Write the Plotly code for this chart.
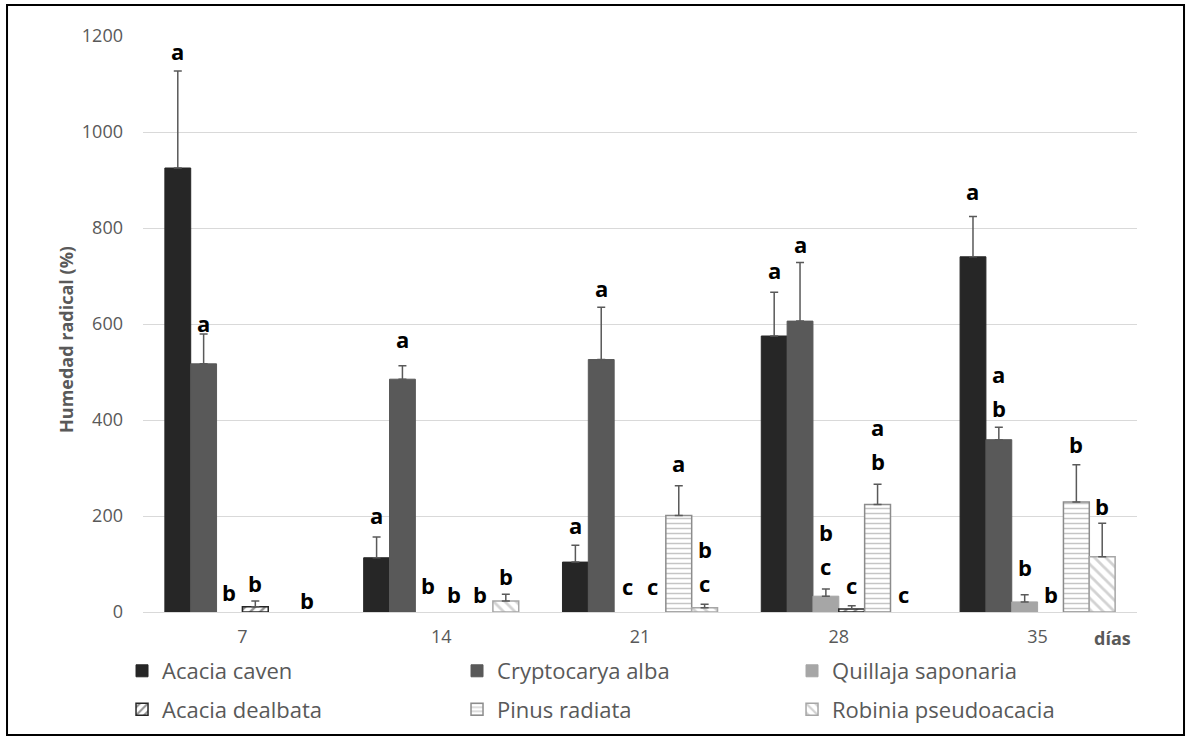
import plotly.graph_objects as go

# Sampling days (x categories)
days = ["7", "14", "21", "28", "35"]

# Root moisture (%) per species and day, with the upper standard error
acacia_caven = [925, 113, 104, 575, 740]
acacia_caven_err = [202, 43, 35, 91, 84]
cryptocarya_alba = [517, 485, 526, 606, 359]
cryptocarya_alba_err = [62, 28, 109, 122, 26]
quillaja_saponaria = [0, 0, 0, 33, 21]
quillaja_saponaria_err = [0, 0, 0, 15, 15]
acacia_dealbata = [11, 0, 0, 6, 0]
acacia_dealbata_err = [12, 0, 0, 7, 0]
pinus_radiata = [0, 0, 201, 224, 229]
pinus_radiata_err = [0, 0, 62, 42, 78]
robinia_pseudoacacia = [0, 23, 9, 0, 115]
robinia_pseudoacacia_err = [0, 14, 7, 0, 70]

# Significance letters per species and day ("" = none); multi-letter groups stack vertically
letters_acacia_caven = ["a", "a", "a", "a", "a"]
letters_cryptocarya_alba = ["a", "a", "a", "a", "ab"]
letters_quillaja_saponaria = ["b", "b", "c", "bc", "b"]
letters_acacia_dealbata = ["b", "b", "c", "c", "b"]
letters_pinus_radiata = ["", "b", "a", "ab", "b"]
letters_robinia_pseudoacacia = ["b", "b", "bc", "c", "b"]

# Label placement: height (y units) of the lowest letter in each group
letter_base = [
    [1168, 202, 182, 712, 877],
    [603, 568, 675, 766, 424],
    [41, 56, 55, 96, 94],
    [60, 38, 55, 57, 37],
    [None, 38, 310, 315, 349],
    [25, 75, 60, 38, 221],
]

series = [
    ("Acacia caven", acacia_caven, acacia_caven_err, letters_acacia_caven,
     dict(color="#262626", line=dict(color="#262626", width=1))),
    ("Cryptocarya alba", cryptocarya_alba, cryptocarya_alba_err, letters_cryptocarya_alba,
     dict(color="#595959", line=dict(color="#595959", width=1))),
    ("Quillaja saponaria", quillaja_saponaria, quillaja_saponaria_err, letters_quillaja_saponaria,
     dict(color="#a6a6a6", line=dict(color="#a6a6a6", width=1))),
    ("Acacia dealbata", acacia_dealbata, acacia_dealbata_err, letters_acacia_dealbata,
     dict(color="white", line=dict(color="#262626", width=1.5),
          pattern=dict(shape="/", fgcolor="#262626", bgcolor="white", size=7,
                       solidity=0.35, fillmode="overlay"))),
    ("Pinus radiata", pinus_radiata, pinus_radiata_err, letters_pinus_radiata,
     dict(color="white", line=dict(color="#8c8c8c", width=1.5),
          pattern=dict(shape="-", fgcolor="#8c8c8c", bgcolor="white", size=5,
                       solidity=0.3, fillmode="overlay"))),
    ("Robinia pseudoacacia", robinia_pseudoacacia, robinia_pseudoacacia_err, letters_robinia_pseudoacacia,
     dict(color="white", line=dict(color="#a6a6a6", width=1.5),
          pattern=dict(shape="\\", fgcolor="#a6a6a6", bgcolor="white", size=8,
                       solidity=0.35, fillmode="overlay"))),
]

FONT = "Open Sans"
GRAY = "#595959"
BARGAP = 0.22
n_series = len(series)
bar_w = (1 - BARGAP) / n_series
xpos = list(range(len(days)))

fig = go.Figure()
annotations = []
for i, (name, vals, errs, letters, marker) in enumerate(series):
    yvals = [v if v > 0 else None for v in vals]
    evals = [e if v > 0 and e > 0 else None for v, e in zip(vals, errs)]
    fig.add_trace(go.Bar(
        x=xpos, y=yvals, name=name, marker=marker,
        legend="legend" if i < 3 else "legend2",
        error_y=dict(type="data", symmetric=False, array=evals,
                     arrayminus=[0 if e is not None else None for e in evals],
                     color=GRAY, thickness=1.5, width=4),
    ))
    offset = (i - (n_series - 1) / 2) * bar_w
    for d, (txt, base) in enumerate(zip(letters, letter_base[i])):
        if not txt or base is None:
            continue
        # stack letters: last letter at the base, earlier ones above it
        for k, ch in enumerate(reversed(txt)):
            annotations.append(dict(
                x=d + offset, y=base, xref="x", yref="y", text=ch,
                showarrow=False, yanchor="middle", xanchor="center", yshift=34 * k,
                font=dict(family=FONT, size=22, color="black", weight="bold"),
            ))

# Axis titles
annotations.append(dict(
    x=-0.0775, y=0.474, xref="paper", yref="paper", text="Humedad radical (%)",
    textangle=-90, showarrow=False, xanchor="center", yanchor="middle",
    font=dict(family=FONT, size=18, color=GRAY, weight="bold"),
))
annotations.append(dict(
    x=0.975, y=-0.045, xref="paper", yref="paper", text="días",
    showarrow=False, xanchor="center", yanchor="middle",
    font=dict(family=FONT, size=18, color=GRAY, weight="bold"),
))

legend_common = dict(
    orientation="h", xanchor="left", yanchor="middle", x=-0.0211,
    entrywidth=290, entrywidthmode="pixels", itemwidth=30,
    font=dict(family=FONT, size=22, color=GRAY), bgcolor="rgba(0,0,0,0)",
    borderwidth=0, tracegroupgap=0,
)

fig.update_layout(
    width=1188, height=736,
    margin=dict(l=143, r=51, t=36, b=124, autoexpand=False),
    paper_bgcolor="white", plot_bgcolor="white",
    barmode="group", bargap=BARGAP, bargroupgap=0,
    font=dict(family=FONT, color=GRAY),
    showlegend=True,
    legend=dict(legend_common, y=-0.1024),
    legend2=dict(legend_common, y=-0.1693),
    annotations=annotations,
    # chart-area frame; its lower edge sits on the bottom edge of the canvas
    shapes=[dict(type="rect", xref="paper", yref="paper",
                 x0=-0.1368, x1=1.0473, y0=-0.2135, y1=1.0538,
                 line=dict(color="black", width=2), fillcolor="rgba(0,0,0,0)", layer="above")],
    xaxis=dict(
        tickmode="array", tickvals=xpos, ticktext=days, range=[-0.5, len(days) - 0.5],
        showgrid=False, zeroline=False, showline=True, linecolor="#d9d9d9", linewidth=1,
        ticks="", tickfont=dict(family=FONT, size=18, color=GRAY), ticklabelstandoff=8,
    ),
    yaxis=dict(
        range=[0, 1200], dtick=200, showgrid=True, gridcolor="#d9d9d9", gridwidth=1,
        zeroline=False, showline=False, ticks="",
        tickfont=dict(family=FONT, size=18, color=GRAY), ticklabelstandoff=19,
    ),
)

fig.write_html("out.html")
